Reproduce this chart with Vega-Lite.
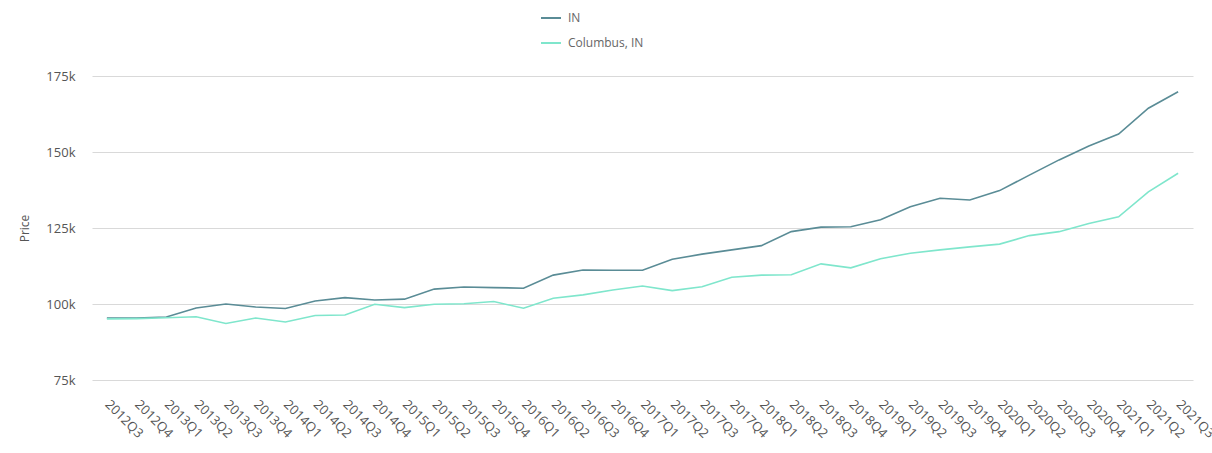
{
  "$schema": "https://vega.github.io/schema/vega-lite/v6.json",
  "width": 1101,
  "height": 304,
  "autosize": {"type": "none"},
  "padding": {"left": 92, "top": 76, "right": 19, "bottom": 73},
  "background": "white",
  "config": {
    "font": "Open Sans",
    "view": {"stroke": null},
    "axis": {"labelColor": "#555", "titleColor": "#555", "labelFontSize": 13, "titleFontSize": 12, "titleFontWeight": "normal"}
  },
  "datasets": {
    "main": [
      {"q":"2012Q3","s":"IN","v":95400},{"q":"2012Q4","s":"IN","v":95400},{"q":"2013Q1","s":"IN","v":95700},{"q":"2013Q2","s":"IN","v":98700},{"q":"2013Q3","s":"IN","v":100000},{"q":"2013Q4","s":"IN","v":99000},{"q":"2014Q1","s":"IN","v":98500},{"q":"2014Q2","s":"IN","v":101000},{"q":"2014Q3","s":"IN","v":102100},{"q":"2014Q4","s":"IN","v":101300},{"q":"2015Q1","s":"IN","v":101600},{"q":"2015Q2","s":"IN","v":104900},{"q":"2015Q3","s":"IN","v":105600},{"q":"2015Q4","s":"IN","v":105400},{"q":"2016Q1","s":"IN","v":105200},{"q":"2016Q2","s":"IN","v":109500},{"q":"2016Q3","s":"IN","v":111200},{"q":"2016Q4","s":"IN","v":111100},{"q":"2017Q1","s":"IN","v":111100},{"q":"2017Q2","s":"IN","v":114700},{"q":"2017Q3","s":"IN","v":116400},{"q":"2017Q4","s":"IN","v":117800},{"q":"2018Q1","s":"IN","v":119200},{"q":"2018Q2","s":"IN","v":123800},{"q":"2018Q3","s":"IN","v":125300},{"q":"2018Q4","s":"IN","v":125400},{"q":"2019Q1","s":"IN","v":127700},{"q":"2019Q2","s":"IN","v":132000},{"q":"2019Q3","s":"IN","v":134800},{"q":"2019Q4","s":"IN","v":134200},{"q":"2020Q1","s":"IN","v":137300},{"q":"2020Q2","s":"IN","v":142400},{"q":"2020Q3","s":"IN","v":147400},{"q":"2020Q4","s":"IN","v":152000},{"q":"2021Q1","s":"IN","v":155900},{"q":"2021Q2","s":"IN","v":164400},{"q":"2021Q3","s":"IN","v":169800},
      {"q":"2012Q3","s":"Columbus, IN","v":95100},{"q":"2012Q4","s":"Columbus, IN","v":95200},{"q":"2013Q1","s":"Columbus, IN","v":95500},{"q":"2013Q2","s":"Columbus, IN","v":95800},{"q":"2013Q3","s":"Columbus, IN","v":93600},{"q":"2013Q4","s":"Columbus, IN","v":95400},{"q":"2014Q1","s":"Columbus, IN","v":94100},{"q":"2014Q2","s":"Columbus, IN","v":96200},{"q":"2014Q3","s":"Columbus, IN","v":96400},{"q":"2014Q4","s":"Columbus, IN","v":99900},{"q":"2015Q1","s":"Columbus, IN","v":98800},{"q":"2015Q2","s":"Columbus, IN","v":99900},{"q":"2015Q3","s":"Columbus, IN","v":100100},{"q":"2015Q4","s":"Columbus, IN","v":100800},{"q":"2016Q1","s":"Columbus, IN","v":98600},{"q":"2016Q2","s":"Columbus, IN","v":101900},{"q":"2016Q3","s":"Columbus, IN","v":103000},{"q":"2016Q4","s":"Columbus, IN","v":104600},{"q":"2017Q1","s":"Columbus, IN","v":105900},{"q":"2017Q2","s":"Columbus, IN","v":104400},{"q":"2017Q3","s":"Columbus, IN","v":105700},{"q":"2017Q4","s":"Columbus, IN","v":108800},{"q":"2018Q1","s":"Columbus, IN","v":109500},{"q":"2018Q2","s":"Columbus, IN","v":109600},{"q":"2018Q3","s":"Columbus, IN","v":113200},{"q":"2018Q4","s":"Columbus, IN","v":111900},{"q":"2019Q1","s":"Columbus, IN","v":114900},{"q":"2019Q2","s":"Columbus, IN","v":116700},{"q":"2019Q3","s":"Columbus, IN","v":117800},{"q":"2019Q4","s":"Columbus, IN","v":118800},{"q":"2020Q1","s":"Columbus, IN","v":119700},{"q":"2020Q2","s":"Columbus, IN","v":122500},{"q":"2020Q3","s":"Columbus, IN","v":123800},{"q":"2020Q4","s":"Columbus, IN","v":126500},{"q":"2021Q1","s":"Columbus, IN","v":128700},{"q":"2021Q2","s":"Columbus, IN","v":136900},{"q":"2021Q3","s":"Columbus, IN","v":143000}
    ]
  },
  "data": {"name": "main"},
  "mark": {"type": "line", "strokeWidth": 1.6},
  "encoding": {
    "x": {
      "field": "q", "type": "ordinal",
      "scale": {"type": "point", "padding": 0.5},
      "axis": {"title": null, "labelAngle": 45, "labelAlign": "left", "labelBaseline": "middle", "labelPadding": 22, "ticks": false, "domain": false, "grid": false, "labelOverlap": false, "labelFontSize": 13}
    },
    "y": {
      "field": "v", "type": "quantitative",
      "scale": {"domain": [75000, 175000], "nice": false, "zero": false},
      "axis": {"title": "Price", "values": [75000, 100000, 125000, 150000, 175000], "format": "~s", "ticks": false, "domain": false, "grid": true, "gridColor": "#d9d9d9", "labelPadding": 17, "titlePadding": 14}
    },
    "color": {
      "field": "s", "type": "nominal",
      "sort": ["IN", "Columbus, IN"],
      "scale": {"domain": ["IN", "Columbus, IN"], "range": ["#5a8c96", "#7fe6cc"]},
      "legend": {"title": null, "orient": "none", "legendX": 448, "legendY": -69, "direction": "vertical", "symbolType": "stroke", "symbolSize": 400, "symbolStrokeWidth": 2, "labelFontSize": 12, "labelColor": "#666", "rowPadding": 8, "labelOffset": 6}
    }
  }
}
